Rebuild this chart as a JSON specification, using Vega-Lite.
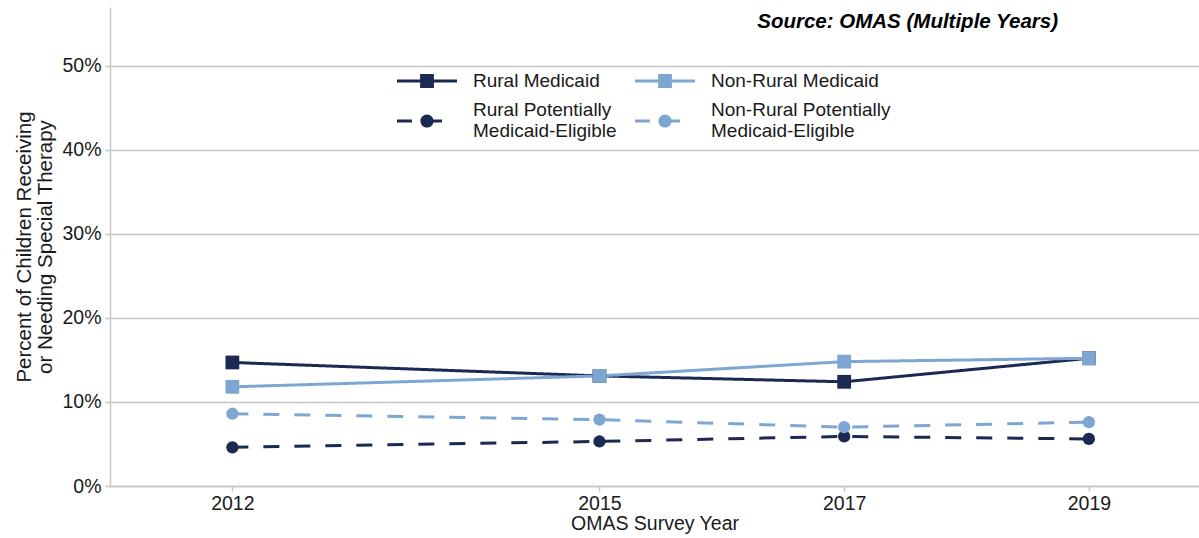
{
  "$schema": "https://vega.github.io/schema/vega-lite/v6.json",
  "autosize": "none",
  "padding": {"left": 110, "top": 7, "right": 0, "bottom": 52},
  "width": 1089,
  "height": 479,
  "background": "white",
  "config": {
    "font": "Liberation Sans",
    "view": {"stroke": null},
    "axis": {"labelFont": "Liberation Sans", "titleFont": "Liberation Sans", "labelColor": "#1a1a1a", "titleColor": "#1a1a1a", "domainColor": "#c6c6c6", "tickColor": "#c6c6c6", "gridColor": "#c6c6c6", "domainWidth": 1.5, "tickWidth": 1.5, "gridWidth": 1.5}
  },
  "title": {
    "text": "Source: OMAS (Multiple Years)",
    "anchor": "end",
    "orient": "top",
    "frame": "group",
    "font": "Liberation Sans",
    "fontSize": 20.5,
    "fontWeight": "bold",
    "fontStyle": "italic",
    "color": "#000000",
    "offset": 0,
    "dx": -141,
    "dy": 25
  },
  "data": {
    "values": [
      {"year": 2012, "series": "Rural Medicaid", "value": 0.147},
      {"year": 2015, "series": "Rural Medicaid", "value": 0.131},
      {"year": 2017, "series": "Rural Medicaid", "value": 0.124},
      {"year": 2019, "series": "Rural Medicaid", "value": 0.152},
      {"year": 2012, "series": "Non-Rural Medicaid", "value": 0.118},
      {"year": 2015, "series": "Non-Rural Medicaid", "value": 0.131},
      {"year": 2017, "series": "Non-Rural Medicaid", "value": 0.148},
      {"year": 2019, "series": "Non-Rural Medicaid", "value": 0.152},
      {"year": 2012, "series": "Rural Potentially Medicaid-Eligible", "value": 0.046},
      {"year": 2015, "series": "Rural Potentially Medicaid-Eligible", "value": 0.053},
      {"year": 2017, "series": "Rural Potentially Medicaid-Eligible", "value": 0.059},
      {"year": 2019, "series": "Rural Potentially Medicaid-Eligible", "value": 0.056},
      {"year": 2012, "series": "Non-Rural Potentially Medicaid-Eligible", "value": 0.086},
      {"year": 2015, "series": "Non-Rural Potentially Medicaid-Eligible", "value": 0.079},
      {"year": 2017, "series": "Non-Rural Potentially Medicaid-Eligible", "value": 0.070},
      {"year": 2019, "series": "Non-Rural Potentially Medicaid-Eligible", "value": 0.076}
    ]
  },
  "encoding": {
    "x": {
      "field": "year", "type": "quantitative",
      "scale": {"domain": [2011, 2019.9], "nice": false, "zero": false},
      "axis": {"values": [2012, 2015, 2017, 2019], "format": "d", "grid": false, "title": "OMAS Survey Year", "labelFontSize": 19.5, "titleFontSize": 19.5, "titleFontWeight": "normal", "tickSize": 5, "labelPadding": 3, "titlePadding": 2}
    },
    "y": {
      "field": "value", "type": "quantitative",
      "scale": {"domain": [0, 0.57], "nice": false},
      "axis": {"values": [0, 0.1, 0.2, 0.3, 0.4, 0.5], "format": ".0%", "grid": true, "title": ["Percent of Children Receiving", "or Needing Special Therapy"], "labelFontSize": 19.5, "titleFontSize": 20.5, "titleFontWeight": "normal", "titleLineHeight": 21, "tickSize": 5, "labelPadding": 4, "titlePadding": 6}
    },
    "color": {"field": "series", "type": "nominal",
      "scale": {"domain": ["Rural Medicaid", "Non-Rural Medicaid", "Rural Potentially Medicaid-Eligible", "Non-Rural Potentially Medicaid-Eligible"], "range": ["#1b2a52", "#7ea6d2", "#1b2a52", "#7ea6d2"]},
      "legend": {"orient": "none", "legendX": 287, "legendY": 44, "direction": "horizontal", "columns": 2, "title": null, "symbolSize": 3600, "symbolStrokeWidth": 0, "symbolType": "square", "labelFont": "Liberation Sans", "labelFontSize": 19, "labelColor": "#1a1a1a", "labelOffset": 16, "labelLimit": 400, "columnPadding": 18, "rowPadding": -28,
        "labelExpr": "indexof(datum.label, 'Potentially') > 0 ? [replace(datum.label, ' Medicaid-Eligible', ''), 'Medicaid-Eligible'] : datum.label",
        "encode": {"labels": {"update": {"dy": {"signal": "indexof(datum.value, 'Potentially') > 0 ? -11 : 0"}}}}}
    }
  },
  "layer": [
    {
      "mark": {"type": "line", "strokeWidth": 3},
      "encoding": {
        "strokeDash": {"field": "series", "type": "nominal", "legend": null,
          "scale": {"domain": ["Rural Medicaid", "Non-Rural Medicaid", "Rural Potentially Medicaid-Eligible", "Non-Rural Potentially Medicaid-Eligible"], "range": [[1, 0], [1, 0], [16, 15], [16, 15]]}}
      }
    },
    {
      "transform": [{"filter": "indexof(datum.series, 'Potentially') < 0"}],
      "mark": {"type": "point", "shape": "square", "filled": true, "opacity": 1, "size": 190}
    },
    {
      "transform": [{"filter": "indexof(datum.series, 'Potentially') >= 0"}],
      "mark": {"type": "point", "shape": "circle", "filled": true, "opacity": 1, "size": 150}
    },
    {
      "transform": [{"filter": "datum.value < 0"}],
      "mark": {"type": "point", "filled": true, "opacity": 1},
      "encoding": {
        "shape": {"field": "series", "type": "nominal",
          "scale": {"domain": ["Rural Medicaid", "Non-Rural Medicaid", "Rural Potentially Medicaid-Eligible", "Non-Rural Potentially Medicaid-Eligible"],
            "range": [
              "M-1,-0.05H1V0.05H-1Z M-0.23,-0.23H0.23V0.23H-0.23Z",
              "M-1,-0.05H1V0.05H-1Z M-0.23,-0.23H0.23V0.23H-0.23Z",
              "M-1,-0.05H-0.5V0.05H-1Z M0,-0.05H0.5V0.05H0Z M-0.22,0A0.22,0.22,0,1,1,0.22,0A0.22,0.22,0,1,1,-0.22,0Z",
              "M-1,-0.05H-0.5V0.05H-1Z M0,-0.05H0.5V0.05H0Z M-0.22,0A0.22,0.22,0,1,1,0.22,0A0.22,0.22,0,1,1,-0.22,0Z"
            ]}}
      }
    }
  ]
}
